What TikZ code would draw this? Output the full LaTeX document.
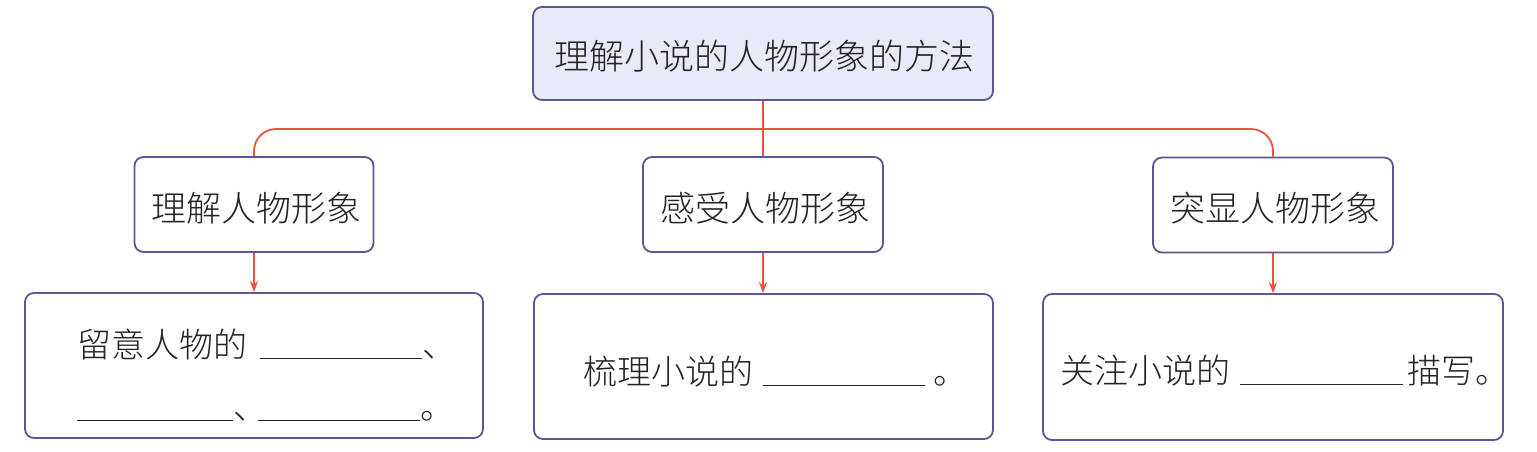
\documentclass[tikz,border=0pt]{standalone}
\usepackage{fontspec}
\newfontfamily\cjk{Noto Sans CJK SC}[UprightFont={* Light}]
\usetikzlibrary{arrows.meta}
\definecolor{boxline}{RGB}{88,88,150}
\definecolor{conn}{RGB}{232,82,62}
\definecolor{topfill}{RGB}{232,234,247}
\definecolor{txt}{RGB}{35,35,35}
\newcommand{\blankline}[1]{\rule[-2pt]{#1}{1.3pt}}
\begin{document}
\begin{tikzpicture}[x=1pt,y=-1pt,
  boxstyle/.style={draw=boxline,line width=1.8pt,rounded corners=9pt,fill=white,inner sep=0pt},
  label/.style={text=txt,font=\cjk\fontsize{34}{40}\selectfont,inner sep=0pt},
  conline/.style={draw=conn,line width=1.8pt},
  conarrow/.style={conline,-{Stealth[length=11pt,width=8pt]}}]
\useasboundingbox (0,0) rectangle (1537,451);
% top
\node[boxstyle,fill=topfill,minimum width=460pt,minimum height=93pt] (root) at (763,53.5) {};
\node[label,font=\cjk\fontsize{35}{40}\selectfont] (roottxt) at (764,56) {理解小说的人物形象的方法};
% level 2
\node[boxstyle,minimum width=239pt,minimum height=95pt] (a) at (254,204.5) {};
\node[boxstyle,minimum width=240pt,minimum height=95pt] (b) at (763,204.5) {};
\node[boxstyle,minimum width=240pt,minimum height=95pt] (c) at (1273,205) {};
\node[label,font=\cjk\fontsize{35}{40}\selectfont] (atxt) at (256,208) {理解人物形象};
\node[label,font=\cjk\fontsize{35}{40}\selectfont] (btxt) at (765,208) {感受人物形象};
\node[label,font=\cjk\fontsize{35}{40}\selectfont] (ctxt) at (1275,208) {突显人物形象};
% level 3
\node[boxstyle,minimum width=458pt,minimum height=145pt] (d) at (254,365.5) {};
\node[boxstyle,minimum width=459pt,minimum height=145pt] (e) at (763.5,366.5) {};
\node[boxstyle,minimum width=460pt,minimum height=146pt] (f) at (1273,367) {};
\node[label,anchor=base west] (dtxt1) at (77,357) {留意人物的\hspace{13pt}\blankline{162pt}、};
\node[label,anchor=base west] (dtxt2) at (77,419) {\blankline{156pt}\makebox[25pt][l]{、}\blankline{162pt}。};
\node[label,anchor=base west] (etxt) at (583,384) {梳理小说的\hspace{10pt}\blankline{162pt}\hspace{8pt}。};
\node[label,anchor=base west] (ftxt) at (1060,383) {关注小说的\hspace{10pt}\blankline{163pt}\hspace{4pt}描写。};
% connectors
\coordinate (bar) at (763,129);
\draw[conline] (root.south) -- (b.north);
\draw[conline,rounded corners=22pt] (a.north) -- (a.north |- bar) -- (c.north |- bar) -- (c.north);
\draw[conarrow] (a.south) -- (d.north -| a.south);
\draw[conarrow] (b.south) -- (e.north -| b.south);
\draw[conarrow] (c.south) -- (f.north -| c.south);
\end{tikzpicture}
\end{document}
